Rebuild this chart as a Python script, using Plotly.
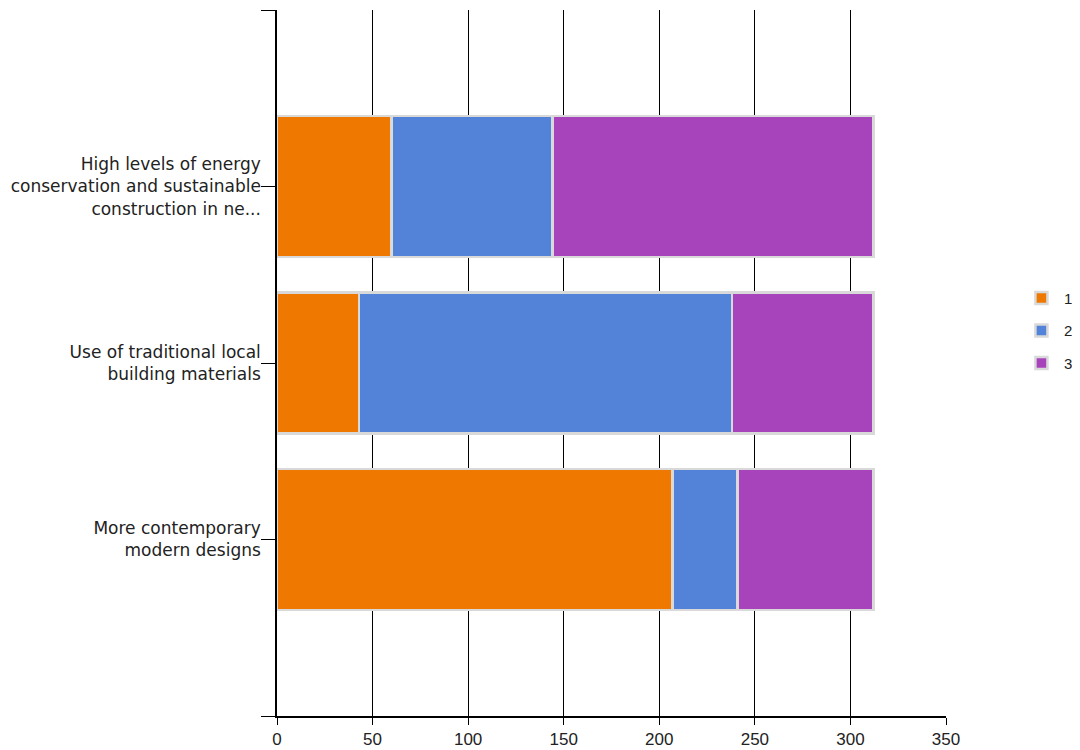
import plotly.graph_objects as go

categories = [
    "More contemporary<br>modern designs",
    "Use of traditional local<br>building materials",
    "High levels of energy<br>conservation and sustainable<br>construction in ne...",
]
series_names = ["1", "2", "3"]
values_1 = [207, 43, 60]
values_2 = [34, 195, 84]
values_3 = [71, 74, 168]
x_ticks = [0, 50, 100, 150, 200, 250, 300, 350]

colors = ["#EE7800", "#5383D8", "#A743BB"]
series = [values_1, values_2, values_3]
ypos = list(range(1, len(categories) + 1))

fig = go.Figure()
for name, vals, col in zip(series_names, series, colors):
    fig.add_trace(go.Bar(
        x=vals, y=ypos, orientation="h", name=name, legendgroup=name,
        width=0.8,
        marker=dict(color=col, line=dict(color="#D9D9D9", width=2.5)),
    ))

fig.update_layout(
    barmode="stack",
    width=1080, height=750,
    margin=dict(l=269, r=142, t=2, b=42),
    plot_bgcolor="white", paper_bgcolor="white",
    font=dict(family="Liberation Sans, Arial", size=16, color="#222222"),
    showlegend=True,
    legend=dict(x=1.109, y=0.615, xanchor="left", yanchor="top",
                traceorder="grouped", tracegroupgap=10, itemwidth=35,
                font=dict(family="Liberation Sans, Arial", size=15, color="#222222")),
    xaxis=dict(range=[0, 350], tickvals=x_ticks, showgrid=True, gridcolor="black",
               gridwidth=1, showline=True, linecolor="black", linewidth=1.5,
               ticks="outside", ticklen=7, tickcolor="black", zeroline=False,
               tickfont=dict(family="Liberation Sans Narrow, Liberation Sans, Arial", size=17)),
    yaxis=dict(range=[0, len(categories) + 1],
               tickvals=[0] + ypos + [len(categories) + 1],
               ticktext=[""] + categories + [""],
               showgrid=False, showline=True, linecolor="black", linewidth=1.5,
               ticks="outside", ticklen=14, tickcolor="black", zeroline=False,
               ticklabelstandoff=-3,
               tickfont=dict(family="DejaVu Sans, Arial", size=17)),
)
fig.write_html("out.html")
